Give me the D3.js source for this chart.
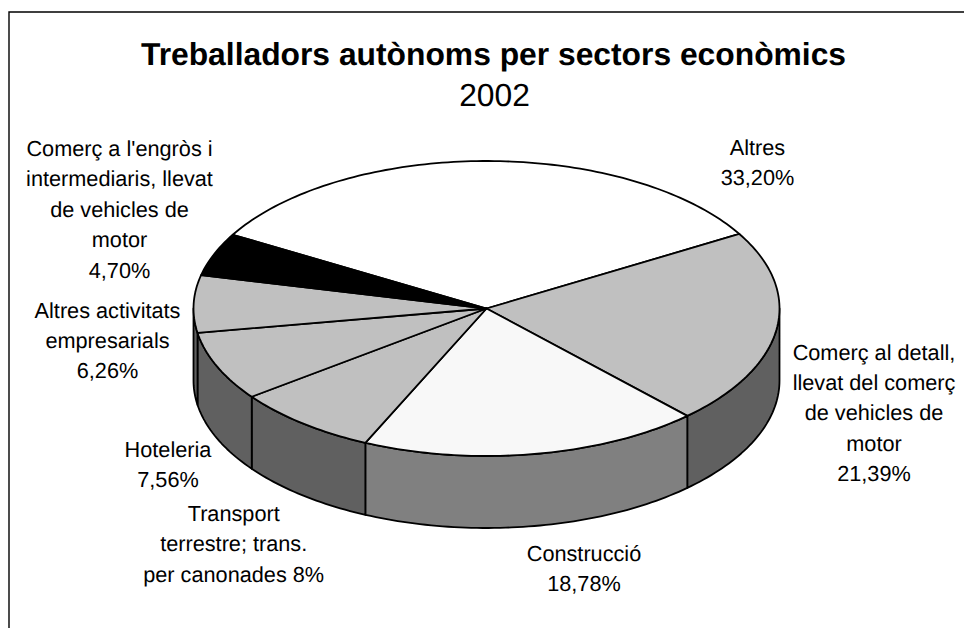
<!DOCTYPE html>
<html><head><meta charset="utf-8">
<script src="https://cdn.jsdelivr.net/npm/d3@7"></script>
<style>html,body{margin:0;padding:0;background:#fff}svg{display:block}text{font-family:"Liberation Sans",Arial,sans-serif;fill:#000;text-rendering:geometricPrecision}</style>
</head><body><svg id="c" width="964" height="628"></svg>
<script>
const sectors = ["Altres","Comerç al detall","Construcció","Transport","Hoteleria","Altres activitats","Comerç a l'engròs"];
const shares = [33.20,21.39,18.78,8,7.56,6.26,4.70];
const topColours = ["#ffffff","#c0c0c0","#f8f8f8","#c0c0c0","#c0c0c0","#c0c0c0","#000000"];
const sideColours = ["#ffffff","#606060","#808080","#606060","#606060","#606060","#000000"];
const labelLines = [
 ["Altres","33,20%"],
 ["Comerç al detall,","llevat del comerç","de vehicles de","motor","21,39%"],
 ["Construcció","18,78%"],
 ["Transport","terrestre; trans.","per canonades 8%"],
 ["Hoteleria","7,56%"],
 ["Altres activitats","empresarials","6,26%"],
 ["Comerç a l'engròs i","intermediaris, llevat","de vehicles de","motor","4,70%"]
];
const labelAnchors = [[757.5,154.5],[874,359.5],[584,560.5],[233.7,521],[168,457],[107.5,317.5],[119.5,156]];
const W=964,H=628,cx=486.5,cy=308.5,rx=293,ry=147.5,depth=72;
const svg=d3.select("#c");
svg.append("path").attr("d",d3.line()([[9,628],[9,12],[964,12]])).attr("fill","none").attr("stroke","#000").attr("stroke-width",1.4);
svg.append("text").attr("x",493.5).attr("y",64.5).attr("text-anchor","middle").attr("font-size",31.8).attr("font-weight","bold").text("Treballadors autònoms per sectors econòmics");
svg.append("text").attr("x",494.5).attr("y",106).attr("text-anchor","middle").attr("font-size",31.8).text("2002");
const start=-60*Math.PI/180;
const pie=d3.pie().sort(null).startAngle(start).endAngle(start+2*Math.PI);
const arcs=pie(shares);
const px=a=>cx+rx*Math.sin(a), py=a=>cy-ry*Math.cos(a);
const arcPts=(a0,a1,dy=0)=>{const n=Math.max(2,Math.ceil(Math.abs(a1-a0)/0.02));return d3.range(n+1).map(i=>{const a=a0+(a1-a0)*i/n;return [px(a),py(a)+dy]})};
const line=d3.line();
const lo=Math.PI/2,hi=3*Math.PI/2;
arcs.forEach((d,i)=>{
  const s=Math.max(d.startAngle,lo),e=Math.min(d.endAngle,hi);
  if(e<=s) return;
  const top=arcPts(s,e),bot=arcPts(e,s,depth);
  svg.append("path").attr("d",line(top.concat(bot))+"Z").attr("fill",sideColours[i]).attr("stroke","#000").attr("stroke-width",1.8).attr("stroke-linejoin","round");
});
arcs.forEach((d,i)=>{
  const pts=[[cx,cy]].concat(arcPts(d.startAngle,d.endAngle));
  svg.append("path").attr("d",line(pts)+"Z").attr("fill",topColours[i]).attr("stroke","#000").attr("stroke-width",1.8).attr("stroke-linejoin","round");
});
labelLines.forEach((ls,i)=>{
  const t=svg.append("text").attr("text-anchor","middle").attr("font-size",21.7);
  ls.forEach((l,j)=>t.append("tspan").attr("x",labelAnchors[i][0]).attr("y",labelAnchors[i][1]+j*30.4).text(l));
});
</script></body></html>
